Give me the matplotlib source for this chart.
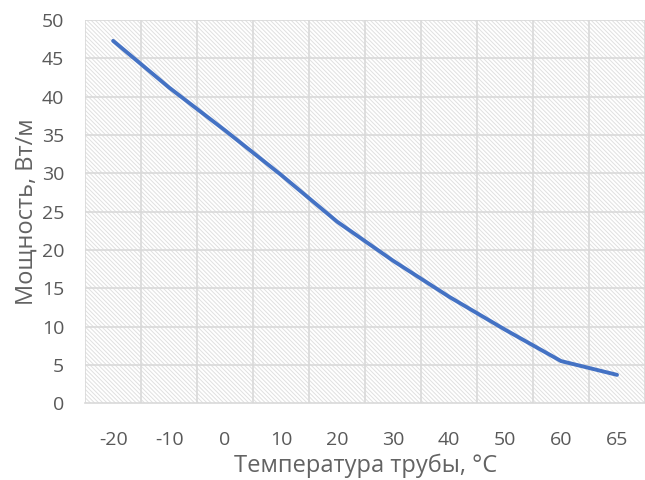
import matplotlib.pyplot as plt
import numpy as np

plt.rcParams['font.family'] = ['Open Sans', 'DejaVu Sans']
plt.rcParams['hatch.linewidth'] = 0.7

temps = ["-20", "-10", "0", "10", "20", "30", "40", "50", "60", "65"]
power = [47.3, 41.2, 35.6, 29.8, 23.7, 18.6, 13.9, 9.6, 5.5, 3.7]

fig = plt.figure(figsize=(6.45, 4.8), dpi=100)
ax = fig.add_axes([0.132, 0.160, 0.868, 0.798])

x = np.arange(len(temps))
ax.set_xlim(-0.5, len(temps) - 0.5)
ax.set_ylim(0, 50)

# hatched background like the Excel pattern fill
ax.add_patch(plt.Rectangle((0, 0), 1, 1, transform=ax.transAxes,
                           facecolor='white', edgecolor='#e0e0e0', lw=0,
                           hatch='\\' * 8, zorder=0))

# gridlines: horizontal every 5, vertical between categories
for yv in range(5, 51, 5):
    ax.axhline(yv, color='#d9d9d9', lw=1.2, zorder=1)
for xv in np.arange(-0.5, len(temps), 1.0):
    ax.axvline(xv, color='#d9d9d9', lw=1.2, zorder=1)

ax.plot(x, power, color='#4472C4', lw=2.8, solid_capstyle='round', zorder=3)

ax.set_xticks(x)
ax.set_xticklabels(temps)
ax.set_yticks(range(0, 51, 5))
ax.tick_params(axis='both', length=0, labelsize=14, colors='#595959')
ax.tick_params(axis='x', pad=20)
ax.tick_params(axis='y', pad=15)

for s in ['top', 'right', 'left']:
    ax.spines[s].set_visible(False)
ax.spines['bottom'].set_color('#d9d9d9')
ax.spines['bottom'].set_linewidth(1.2)

ax.set_xlabel("Температура трубы, °C", fontsize=17, color='#636363', labelpad=3)
ax.set_ylabel("Мощность, Вт/м", fontsize=17, color='#636363', labelpad=2)

fig.savefig("out.png", dpi=100)
